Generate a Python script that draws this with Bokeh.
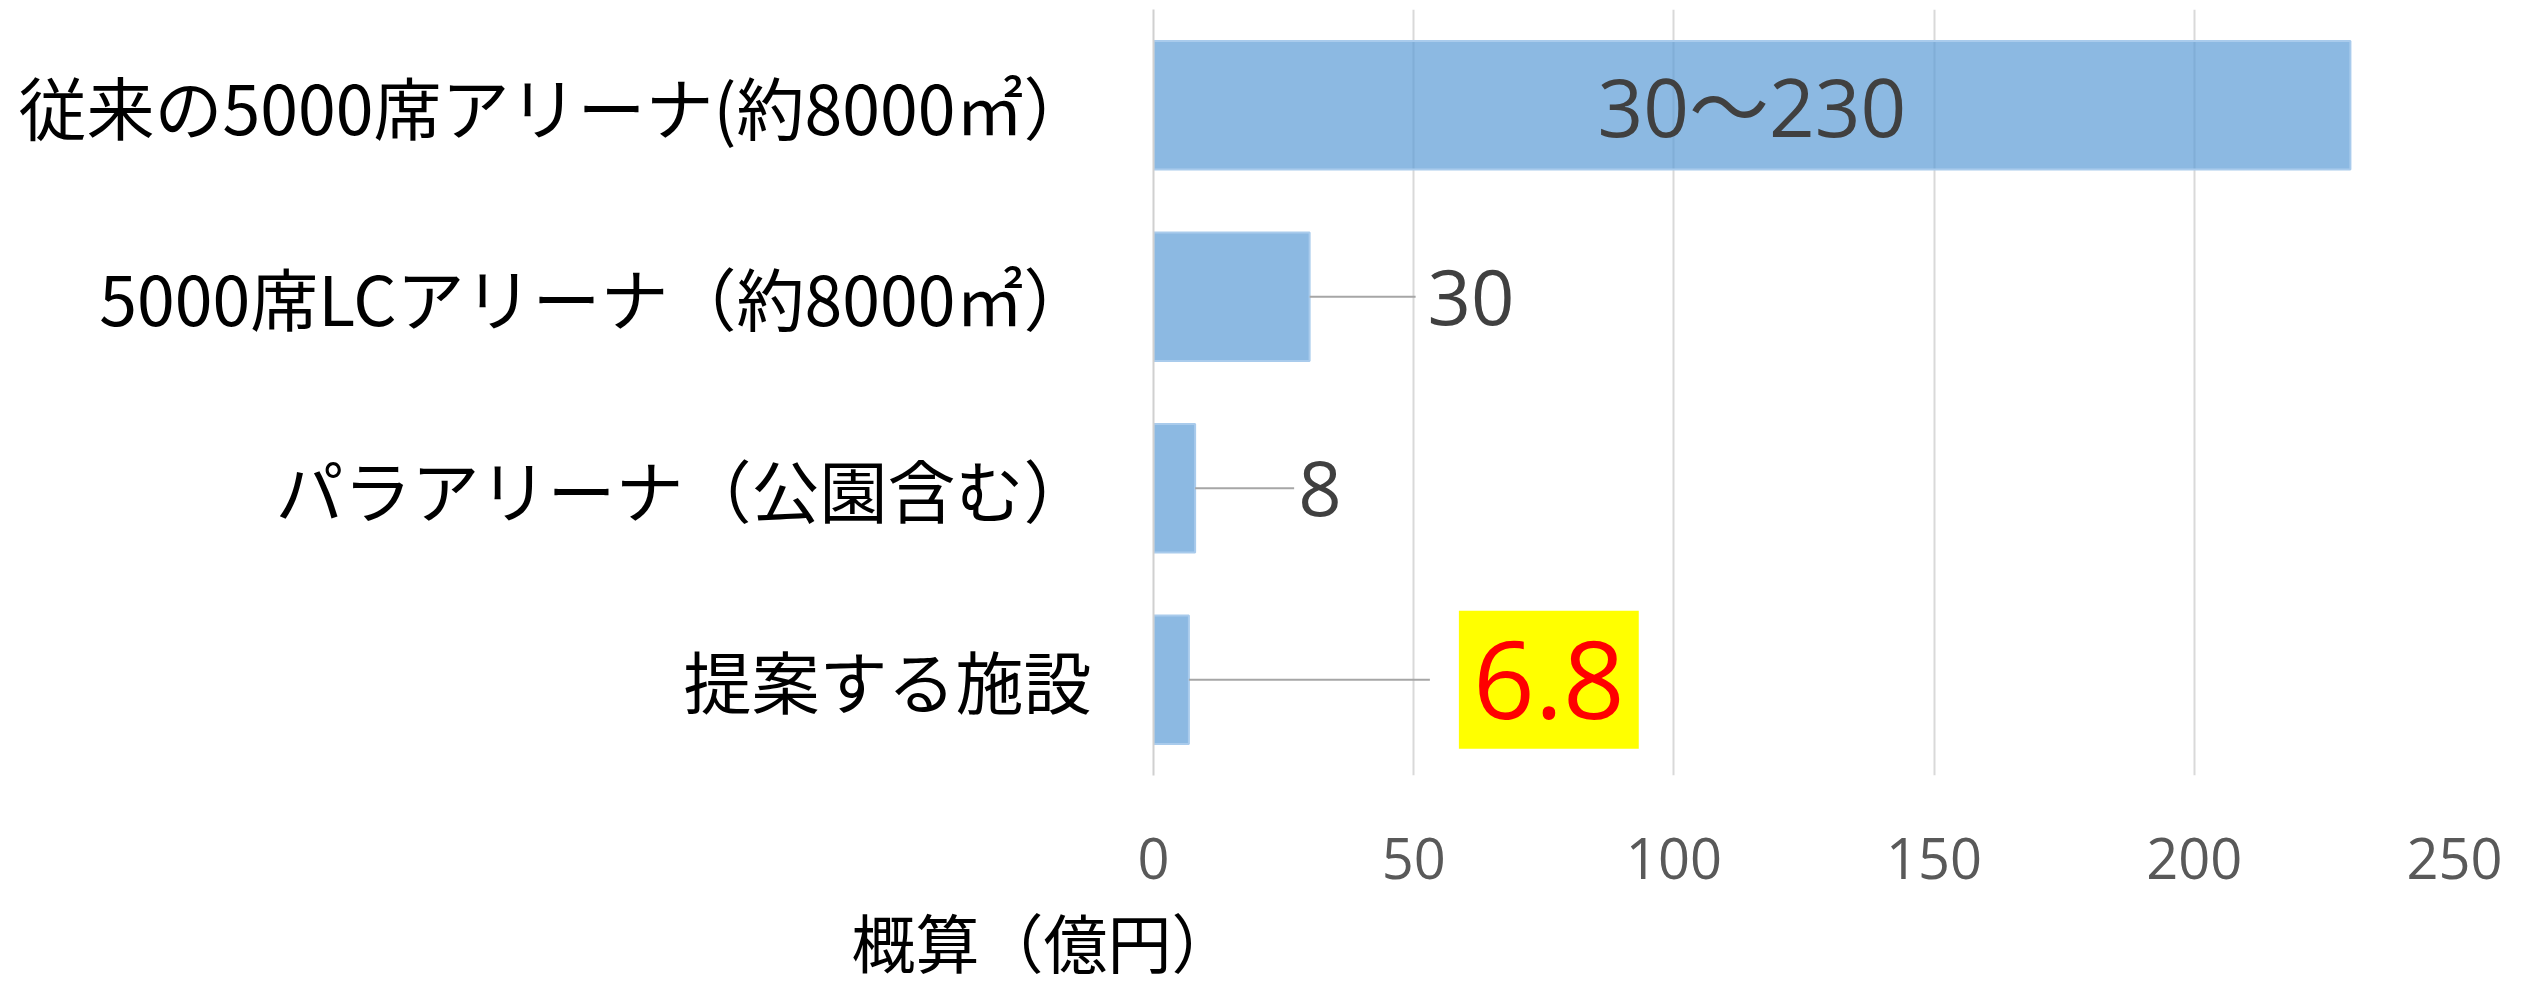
from bokeh.plotting import figure
from bokeh.models import Range1d, FactorRange, Label, FixedTicker
from bokeh.core.properties import value
from bokeh.embed import file_html
from bokeh.resources import INLINE

# ---------------- data ----------------
categories = [
    "従来の5000席アリーナ(約8000㎡）",
    "5000席LCアリーナ（約8000㎡）",
    "パラアリーナ（公園含む）",
    "提案する施設",
]
costs = [230, 30, 8, 6.8]
cost_labels = ["30〜230", "30", "8", "6.8"]
x_ticks = [0, 50, 100, 150, 200, 250]
axis_title = "概算（億円）"

# ---------------- layout ----------------
W, H = 2526, 989
LEFT, RIGHT, TOP, BOTTOM = 1153, 72, 9, 214
X_MAX = 250
FRAME_W = W - LEFT - RIGHT
FRAME_H = H - TOP - BOTTOM
PPU = FRAME_W / X_MAX
BAND = FRAME_H / len(categories)


def dx(page_x):
    return (page_x - LEFT) / PPU


def dy(page_y):
    return (H - BOTTOM - page_y) / BAND


p = figure(
    width=W, height=H,
    y_range=FactorRange(factors=list(reversed(categories))),
    x_range=Range1d(0, X_MAX),
    output_backend="svg", toolbar_location=None,
    min_border_left=LEFT, min_border_right=RIGHT,
    min_border_top=TOP, min_border_bottom=BOTTOM,
)
p.outline_line_color = None
p.background_fill_color = "white"

# grid
p.ygrid.grid_line_color = None
p.xgrid.grid_line_color = "#D9D9D9"
p.xgrid.grid_line_width = 2
p.xaxis.ticker = FixedTicker(ticks=x_ticks)

# x axis
p.xaxis.axis_line_color = None
p.xaxis.major_tick_line_color = None
p.xaxis.minor_tick_line_color = None
p.xaxis.major_tick_out = 0
p.xaxis.major_label_standoff = 62
p.xaxis.major_label_text_font = "Open Sans"
p.xaxis.major_label_text_font_size = "56px"
p.xaxis.major_label_text_color = "#595959"

# y axis
p.yaxis.axis_line_color = "#D0D0D0"
p.yaxis.axis_line_width = 2
p.yaxis.major_tick_line_color = None
p.yaxis.minor_tick_line_color = None
p.yaxis.major_tick_out = 0
p.yaxis.major_label_standoff = 62
p.yaxis.major_label_text_font = "Noto Sans CJK JP"
p.yaxis.major_label_text_font_size = "68px"
p.yaxis.major_label_text_color = "#000000"

# bars
p.hbar(y=categories, left=0, right=costs, height=0.67,
       fill_color="#5B9BD5", fill_alpha=0.7,
       line_color="#A9CBEC", line_width=2)

num_font = value("Open Sans, Noto Sans CJK JP")

# label inside first bar
p.text(x=[costs[0] / 2], y=[categories[0]], text=[cost_labels[0]],
       text_align="center", text_baseline="middle",
       text_font=num_font, text_font_size="80px", text_color="#404040")

# outside labels with leader lines (screen pixel offsets)
label_off = [None, 118, 103, None]
leader_end = [None, 106, 99, 241]

for i in (1, 2):
    p.text(x=[costs[i]], y=[categories[i]], text=[cost_labels[i]],
           x_offset=label_off[i], text_align="left", text_baseline="middle",
           text_font=num_font, text_font_size="76px", text_color="#404040")

seg_idx = [1, 2, 3]
p.segment(x0=[costs[i] for i in seg_idx],
          y0=[categories[i] for i in seg_idx],
          x1=[costs[i] + leader_end[i] / PPU for i in seg_idx],
          y1=[categories[i] for i in seg_idx],
          line_color="#A6A6A6", line_width=2)

# highlighted label
p.text(x=[costs[3]], y=[categories[3]], text=[cost_labels[3]],
       x_offset=270, text_align="left", text_baseline="middle",
       text_font=num_font, text_font_size="108px", text_color="#FF0000",
       background_fill_color="#FFFF00", padding=(14, 30))

# axis title (placed in the below panel so that it is not clipped)
p.add_layout(Label(x=dx(851), y=dy(945), text=axis_title,
                   text_font="Liberation Sans, Noto Sans CJK JP", text_font_size="64px",
                   text_color="#000000", text_baseline="middle", text_align="left"),
             "below")

open("out.html", "w").write(file_html(p, INLINE))
